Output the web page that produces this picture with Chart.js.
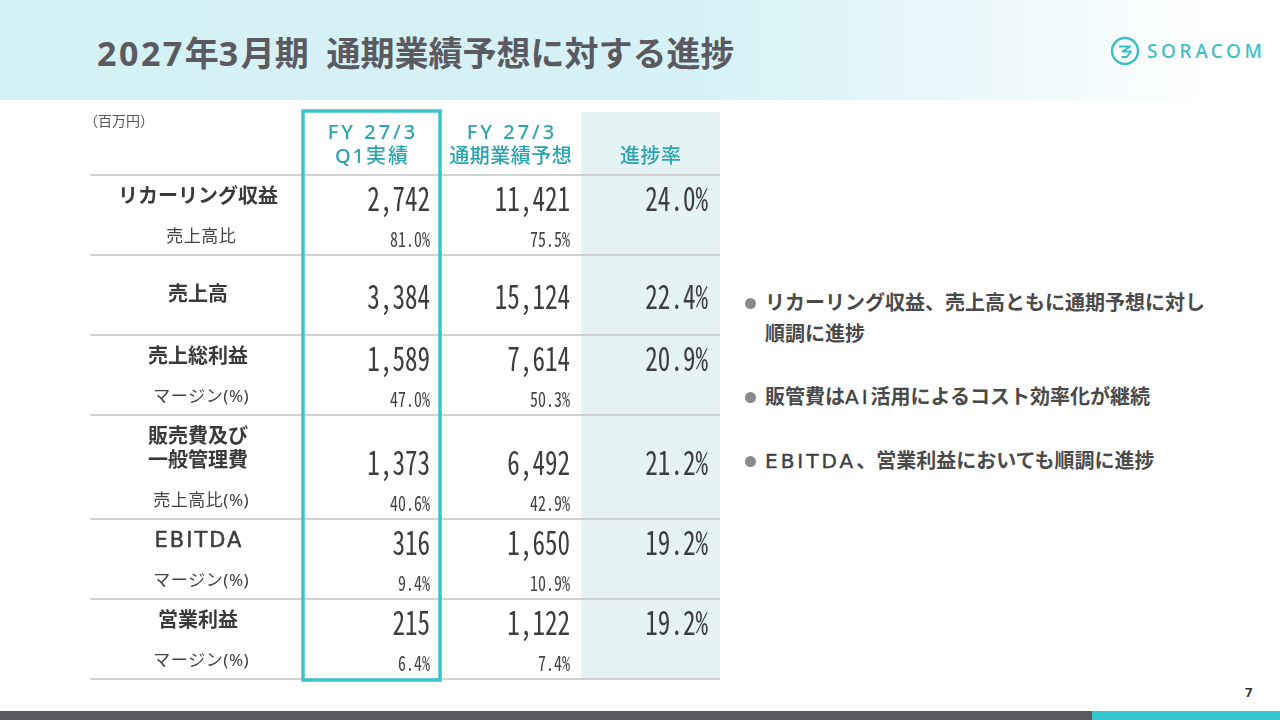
<!DOCTYPE html>
<html lang="ja">
<head>
<meta charset="utf-8">
<title>2027年3月期 通期業績予想に対する進捗</title>
<script src="https://cdn.jsdelivr.net/npm/chart.js@4.4.1/dist/chart.umd.min.js"></script>
<style>
  html, body { margin: 0; padding: 0; }
  body {
    width: 1280px; height: 720px; position: relative; overflow: hidden; background: #fff;
    font-family: "Noto Sans", "Noto Sans CJK JP", sans-serif; color: #444;
  }
  .header {
    position: absolute; left: 0; top: 0; width: 1280px; height: 100px;
    background: linear-gradient(90deg, #d4f1f6 0%, #d7f2f7 55%, #eef9fb 80%, #ffffff 95%);
  }
  .title {
    position: absolute; left: 97px; top: 27px; font-size: 34px; font-weight: 700;
    color: #5a5a60; white-space: nowrap;
  }
  .lat { letter-spacing: 2.5px; }
  .logo { position: absolute; left: 1109px; top: 35px; width: 165px; height: 32px; }
  .logo span {
    position: absolute; left: 38px; top: 1px; font-family: "Noto Sans", sans-serif;
    font-size: 19px; font-weight: 500; letter-spacing: 3.6px; color: #3bbec8; line-height: 30px;
  }
  #tableWrap { position: absolute; left: 80px; top: 104px; width: 650px; height: 590px; }
  .bullets { position: absolute; left: 745px; top: 287px; width: 520px; }
  .bullets div {
    position: relative; padding-left: 20px; font-size: 20px; font-weight: 700;
    color: #4a4a4a; line-height: 31px; margin-bottom: 32px; white-space: nowrap;
  }
  .bullets div::before {
    content: ""; position: absolute; left: 0; top: 11px; width: 11px; height: 11px;
    border-radius: 50%; background: #8a8a8e;
  }
  .bullets .lat {
    font-family: "DejaVu Sans", sans-serif; font-weight: 400; font-size: 20px;
    letter-spacing: 3px; color: #3e3e3e; -webkit-text-stroke: 0.4px #3e3e3e;
  }
  .page { position: absolute; left: 1245px; top: 683px; font-size: 13px; font-weight: 700; color: #333; }
  .foot-dark { position: absolute; left: 0; top: 711px; width: 1092px; height: 9px; background: #5b5a61; }
  .foot-cyan { position: absolute; left: 1092px; top: 711px; width: 188px; height: 9px; background: #35c6cf; }
</style>
</head>
<body>
<div class="header"></div>
<div class="title"><span class="lat">2027</span>年<span class="lat">3</span>月期&nbsp;&nbsp;通期業績予想に対する進捗</div>
<div class="logo">
  <svg width="32" height="32" viewBox="0 0 32 32">
    <circle cx="16" cy="16" r="13" fill="none" stroke="#3bbec8" stroke-width="2.4"/>
    <path d="M10 11.5 h11 l-7.5 5 h8.5 l-4 5 M12.5 22 h6" fill="none" stroke="#3bbec8" stroke-width="2" stroke-linejoin="round"/>
  </svg>
  <span>SORACOM</span>
</div>

<div id="tableWrap"><canvas id="progressChart"></canvas></div>

<div class="bullets">
  <div>リカーリング収益、売上高ともに通期予想に対し<br>順調に進捗</div>
  <div>販管費は<span class="lat">AI</span>活用によるコスト効率化が継続</div>
  <div><span class="lat">EBITDA</span>、営業利益においても順調に進捗</div>
</div>

<div class="page">7</div>
<div class="foot-dark"></div>
<div class="foot-cyan"></div>

<script>
// Table data (百万円)
const rowLabels = ["リカーリング収益", "売上高", "売上総利益", "販売費及び\n一般管理費", "EBITDA", "営業利益"];
const subLabels = ["売上高比", "", "マージン(%)", "売上高比(%)", "マージン(%)", "マージン(%)"];
const q1Actual = [2742, 3384, 1589, 1373, 316, 215];
const fyForecast = [11421, 15124, 7614, 6492, 1650, 1122];
const progressRate = [24.0, 22.4, 20.9, 21.2, 19.2, 19.2];
const q1Ratio = [81.0, null, 47.0, 40.6, 9.4, 6.4];
const fyRatio = [75.5, null, 50.3, 42.9, 10.9, 7.4];
const columnHeaders = [["FY 27/3", "Q1実績"], ["FY 27/3", "通期業績予想"], ["進捗率"]];
const unitLabel = "（百万円）";

// Layout in table units (x: 0-650, y: 0-590 from top)
const tableLeft = 10, tableRight = 640, headerTop = 8, headerBottom = 71;
const colEdges = [10, 223, 360, 501, 640];
const labelCenter = 118;
const valueRight = [350, 490, 628];
const blockBase = 80, extraLine = 24;

const numFmt = v => v.toLocaleString("en-US");
const pctFmt = v => v.toFixed(1) + "%";
const jpFont = '"Noto Sans", "Noto Sans CJK JP"';
const latFont = '"DejaVu Sans", "Noto Sans"';
const monoFont = '"Noto Sans Mono CJK JP", "DejaVu Sans Mono", monospace';

function drawCondensed(ctx, text, x, y, size, color) {
  ctx.save();
  ctx.font = "300 " + size + "px " + monoFont;
  ctx.fillStyle = color;
  ctx.textAlign = "right";
  ctx.textBaseline = "middle";
  ctx.translate(x, y);
  ctx.scale(0.76, 1);
  ctx.fillText(text, 0, 0);
  ctx.restore();
}

function drawText(ctx, text, x, y, font, color, align, spacing) {
  ctx.save();
  ctx.font = font;
  ctx.fillStyle = color;
  ctx.textAlign = align || "center";
  ctx.textBaseline = "middle";
  if (spacing) ctx.letterSpacing = spacing + "px";
  // letterSpacing adds trailing space; shift centred text back by half of it
  const shift = spacing && (align || "center") === "center" ? spacing / 2 : 0;
  ctx.fillText(text, x + shift, y);
  ctx.restore();
}

const tablePlugin = {
  id: "progressTable",
  afterDraw(chart) {
    const ctx = chart.ctx;
    const sx = v => chart.scales.x.getPixelForValue(v);
    const sy = v => chart.scales.y.getPixelForValue(v);

    // 進捗率 column background
    ctx.fillStyle = "#e5f3f5";
    ctx.fillRect(sx(colEdges[3]), sy(headerTop), sx(colEdges[4]) - sx(colEdges[3]), sy(575) - sy(headerTop));

    // unit label + column headers
    drawText(ctx, unitLabel, sx(tableLeft - 6), sy(18), '14px ' + jpFont, "#555", "left");
    columnHeaders.forEach((lines, c) => {
      const cx = (sx(colEdges[c + 1]) + sx(colEdges[c + 2])) / 2;
      const ys = lines.length === 2 ? [29, 53] : [53];
      lines.forEach((t, k) => {
        const sp = /^FY/.test(t) ? 3 : (/[A-Z0-9]/.test(t) ? 2 : 0.5);
        drawText(ctx, t, cx, sy(ys[k]), '500 20px ' + jpFont, "#2ba4ae", "center", sp);
      });
    });

    // header rule
    ctx.strokeStyle = "#d2d2d2";
    ctx.lineWidth = 2;
    ctx.beginPath();
    ctx.moveTo(sx(tableLeft), sy(headerBottom));
    ctx.lineTo(sx(tableRight), sy(headerBottom));
    ctx.stroke();

    // rows
    let top = headerBottom;
    rowLabels.forEach((label, i) => {
      const lines = label.split("\n");
      const h = blockBase + (lines.length - 1) * extraLine;
      const hasSub = subLabels[i] !== "";
      const mainY = hasSub ? top + 22 + (lines.length - 1) * extraLine : top + h / 2;
      const subY = mainY + 40;

      lines.forEach((t, k) => {
        const ly = mainY - (lines.length - 1 - k) * extraLine;
        const latin = /^[A-Z]+$/.test(t);
        if (latin) {
          ctx.save();
          ctx.strokeStyle = "#3e3e3e";
          ctx.lineWidth = 0.5;
          ctx.font = '21px ' + latFont;
          ctx.letterSpacing = "2px";
          ctx.textAlign = "center";
          ctx.textBaseline = "middle";
          ctx.fillStyle = "#3e3e3e";
          ctx.fillText(t, sx(labelCenter) + 1, sy(ly + 1));
          ctx.strokeText(t, sx(labelCenter) + 1, sy(ly + 1));
          ctx.restore();
        } else {
          drawText(ctx, t, sx(labelCenter), sy(ly), 'bold 20px ' + jpFont, "#3a3a3a", "center", 0);
        }
      });
      drawCondensed(ctx, numFmt(q1Actual[i]), sx(valueRight[0]), sy(mainY + 1), 33, "#3d3d3d");
      drawCondensed(ctx, numFmt(fyForecast[i]), sx(valueRight[1]), sy(mainY + 1), 33, "#3d3d3d");
      drawCondensed(ctx, pctFmt(progressRate[i]), sx(valueRight[2]), sy(mainY + 1), 33, "#3d3d3d");

      if (hasSub) {
        drawText(ctx, subLabels[i], sx(labelCenter + 3), sy(subY), '17px ' + jpFont, "#444", "center", 0.5);
        drawCondensed(ctx, pctFmt(q1Ratio[i]), sx(valueRight[0]), sy(subY + 2), 21, "#444");
        drawCondensed(ctx, pctFmt(fyRatio[i]), sx(valueRight[1]), sy(subY + 2), 21, "#444");
      }

      top += h;
      ctx.strokeStyle = "#d2d2d2";
      ctx.lineWidth = 2;
      ctx.beginPath();
      ctx.moveTo(sx(tableLeft), sy(top));
      ctx.lineTo(sx(tableRight), sy(top));
      ctx.stroke();
    });

    // Q1 column highlight frame
    ctx.strokeStyle = "#3cc3cc";
    ctx.lineWidth = 3.5;
    ctx.strokeRect(sx(colEdges[1]), sy(headerTop - 1), sx(colEdges[2]) - sx(colEdges[1]), sy(top + 1) - sy(headerTop - 1));
  }
};

new Chart(document.getElementById("progressChart"), {
  type: "scatter",
  data: { datasets: [] },
  options: {
    responsive: true,
    maintainAspectRatio: false,
    animation: false,
    layout: { padding: 0 },
    scales: {
      x: { type: "linear", min: 0, max: 650, display: false },
      y: { type: "linear", min: 0, max: 590, reverse: true, display: false }
    },
    plugins: { legend: { display: false }, tooltip: { enabled: false } }
  },
  plugins: [tablePlugin]
});
</script>
</body>
</html>
